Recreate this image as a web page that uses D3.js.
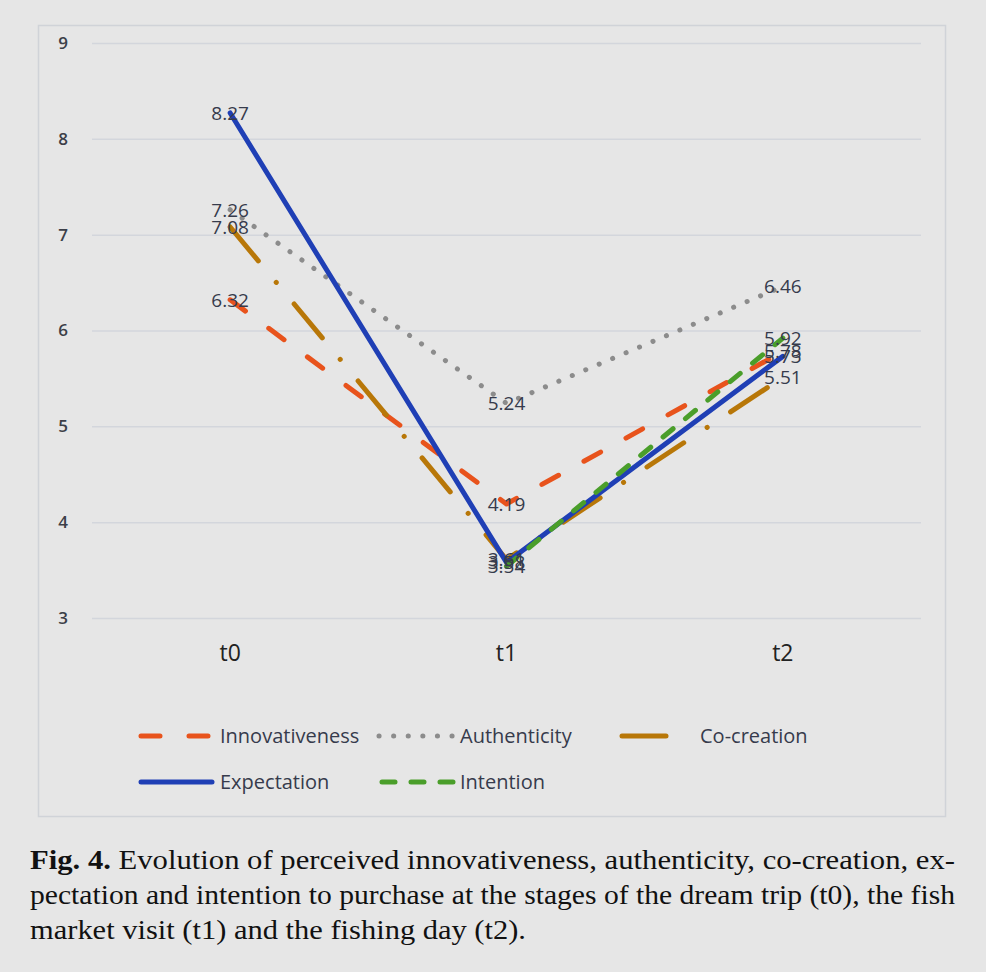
<!DOCTYPE html>
<html>
<head>
<meta charset="utf-8">
<script src="https://cdn.jsdelivr.net/npm/d3@7"></script>
<style>
  html, body { margin: 0; padding: 0; background: #e6e6e6; }
  svg { display: block; }
</style>
</head>
<body>
<svg id="chart" width="986" height="972"></svg>
<script>
// ---- data ----
const stages = ["t0", "t1", "t2"];
const innovativeness = [6.32, 4.19, 5.78];
const authenticity = [7.26, 5.24, 6.46];
const coCreation = [7.08, 3.61, 5.51];
const expectation = [8.27, 3.58, 5.73];
const intention = [null, 3.54, 5.92];
const yTicks = [3, 4, 5, 6, 7, 8, 9];
const seriesNames = ["Innovativeness", "Authenticity", "Co-creation", "Expectation", "Intention"];
const captionLines = [
  "Evolution of perceived innovativeness, authenticity, co-creation, ex-",
  "pectation and intention to purchase at the stages of the dream trip (t0), the fish",
  "market visit (t1) and the fishing day (t2)."
];

const series = [
  { name: seriesNames[0], values: innovativeness, color: "#e8531c", width: 5, dash: "19,29", cap: "round" },
  { name: seriesNames[1], values: authenticity, color: "#8c8c8c", width: 5, dash: "0.1,14.5", cap: "round" },
  { name: seriesNames[2], values: coCreation, color: "#b87708", width: 5, dash: "44,28,0.1,28", cap: "round" },
  { name: seriesNames[3], values: expectation, color: "#1f3fb5", width: 5, dash: null, cap: "round" },
  { name: seriesNames[4], values: intention, color: "#4a9e2a", width: 5, dash: "13,16", cap: "round" }
];

const svg = d3.select("#chart");
const font = "'Open Sans', 'Liberation Sans', sans-serif";

// chart frame
svg.append("rect")
  .attr("x", 38.5).attr("y", 25.5).attr("width", 907).attr("height", 791)
  .attr("fill", "#e6e6e6").attr("stroke", "#d0d3d8").attr("stroke-width", 1.5);

const x = d3.scaleBand().domain(stages).range([92, 921]);
const xc = d => x(d) + x.bandwidth() / 2;
const y = d3.scaleLinear().domain([3, 9]).range([618, 43]);

// gridlines + y labels via axis
const yAxis = d3.axisLeft(y).tickValues(yTicks).tickFormat(d3.format("d"))
  .tickSize(-(921 - 92)).tickPadding(22);
const gy = svg.append("g").attr("transform", "translate(92,0)").call(yAxis);
gy.select(".domain").remove();
gy.selectAll(".tick line").attr("stroke", "#d3d6dc").attr("stroke-width", 1.5);
gy.selectAll(".tick text")
  .attr("fill", "#3c3f48").attr("font-family", font).attr("font-size", 17)
  .attr("font-weight", 600).attr("text-anchor", "middle").attr("x", -29);

// x axis labels
const xAxis = d3.axisBottom(x).tickSize(0).tickPadding(0);
const gx = svg.append("g").attr("transform", "translate(0,640)").call(xAxis);
gx.select(".domain").remove();
gx.selectAll(".tick text")
  .attr("fill", "#222").attr("font-family", font).attr("font-size", 23).attr("dy", "0.9em");

// lines
const line = d3.line()
  .defined(d => d.v !== null)
  .x(d => xc(d.s))
  .y(d => y(d.v));

series.forEach(s => {
  const pts = stages.map((st, i) => ({ s: st, v: s.values[i] }));
  svg.append("path")
    .datum(pts)
    .attr("d", line)
    .attr("fill", "none")
    .attr("stroke", s.color)
    .attr("stroke-width", s.width)
    .attr("stroke-linecap", s.cap)
    .attr("stroke-linejoin", "round")
    .attr("stroke-dasharray", s.dash);
});

// data labels
series.forEach(s => {
  stages.forEach((st, i) => {
    const v = s.values[i];
    if (v === null) return;
    svg.append("text")
      .attr("x", xc(st)).attr("y", y(v))
      .attr("text-anchor", "middle").attr("dy", "0.36em")
      .attr("font-family", font).attr("font-size", 19)
      .attr("fill", "#363b4c")
      .text(v.toFixed(2));
  });
});

// legend
const legendPos = [
  { x1: 141, x2: 212, tx: 220, y: 736 },
  { x1: 379, x2: 455, tx: 460, y: 736 },
  { x1: 622, x2: 668, tx: 700, y: 736 },
  { x1: 141, x2: 212, tx: 220, y: 782 },
  { x1: 382, x2: 453, tx: 460, y: 782 }
];
series.forEach((s, i) => {
  const p = legendPos[i];
  const g = svg.append("g");
  g.append("line")
    .attr("x1", p.x1).attr("x2", p.x2).attr("y1", p.y).attr("y2", p.y)
    .attr("stroke", s.color).attr("stroke-width", s.width)
    .attr("stroke-linecap", s.cap).attr("stroke-dasharray", s.dash);
  g.append("text")
    .attr("x", p.tx).attr("y", p.y).attr("dy", "0.36em")
    .attr("font-family", font).attr("font-size", 20).attr("fill", "#363b4c")
    .text(s.name);
});

// caption
const cap = svg.append("g").attr("font-family", "'Liberation Serif', 'DejaVu Serif', serif")
  .attr("font-size", 27).attr("fill", "#111");
const capY = [869, 904, 939];
const capLen = [925, 925, 496];
const t0 = cap.append("text").attr("x", 30).attr("y", capY[0])
  .attr("textLength", capLen[0]).attr("lengthAdjust", "spacingAndGlyphs");
t0.append("tspan").attr("font-weight", "bold").text("Fig. 4. ");
t0.append("tspan").text(captionLines[0]);
cap.append("text").attr("x", 30).attr("y", capY[1])
  .attr("textLength", capLen[1]).attr("lengthAdjust", "spacingAndGlyphs").text(captionLines[1]);
cap.append("text").attr("x", 30).attr("y", capY[2])
  .attr("textLength", capLen[2]).attr("lengthAdjust", "spacingAndGlyphs").text(captionLines[2]);
</script>
</body>
</html>
